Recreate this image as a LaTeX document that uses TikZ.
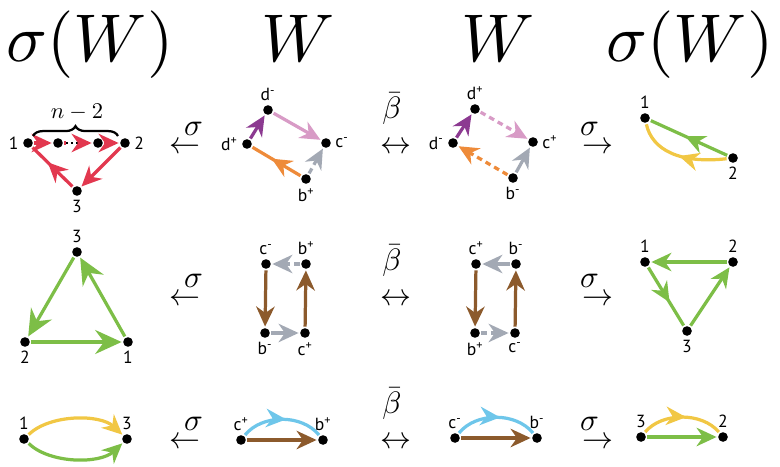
\documentclass[tikz,border=0pt]{standalone}
\usepackage{amsmath}
\usepackage{fontspec}
\newfontfamily\lblfont{PT Sans}
\usetikzlibrary{arrows.meta,decorations.markings,decorations.pathreplacing}

\definecolor{qred}{HTML}{E2384F}
\definecolor{qgreen}{HTML}{7DBE47}
\definecolor{qyellow}{HTML}{F1C744}
\definecolor{qpurple}{HTML}{8C3A91}
\definecolor{qpink}{HTML}{D89BC6}
\definecolor{qorange}{HTML}{EE8B3A}
\definecolor{qgray}{HTML}{A3A9B4}
\definecolor{qbrown}{HTML}{8C5A2C}
\definecolor{qcyan}{HTML}{6EC6EA}

\tikzset{
  dot/.style={circle,fill=black,inner sep=0pt,minimum size=2.4mm},
  tip/.style={-{Stealth[length=5mm,width=4.6mm,inset=1.6mm]}},
  bigtip/.style={-{Stealth[length=6.6mm,width=6mm,inset=2.2mm]}},
  midtip/.style={decoration={markings,mark=at position #1 with
      {\arrow{Stealth[length=5mm,width=4.6mm,inset=1.6mm]}}},postaction={decorate}},
  dashln/.style={dash pattern=on 4pt off 3pt},
  lbl/.style={font=\lblfont\fontsize{12.5}{14}\selectfont,inner sep=1pt},
  head/.style={scale=4.8,inner sep=0pt,anchor=base},
  map/.style={scale=2.2,inner sep=0pt,anchor=base},
}

\newcommand{\pl}[1]{#1\textsuperscript{+}}
\newcommand{\mi}[1]{#1\textsuperscript{-}}

\begin{document}
\begin{tikzpicture}[x=0.025cm,y=-0.025cm,line width=2.3pt,
  every label/.style={lbl},label distance=0pt]
\useasboundingbox (0,0) rectangle (780,466);

% headings
\node[head] (hd1) at (90,62) {$\sigma(W)$};
\node[head] (hd2) at (298,62) {$W$};
\node[head] (hd3) at (498,62) {$W$};
\node[head] (hd4) at (690,62) {$\sigma(W)$};

% maps between the columns
\foreach \y/\n in {153/1,305/2,448/3}{
  \node[map] (sl\n) at (185,\y) {$\overset{\textstyle\;\;\sigma}{\leftarrow}$};
  \node[map] (bb\n) at (392,\y) {$\overset{\textstyle\bar\beta}{\rule{0pt}{0.8em}\leftrightarrow}$};
  \node[map] (sr\n) at (598,\y) {$\overset{\textstyle\sigma\;\;}{\rightarrow}$};
}

% ---- row 1 ----
\node[dot,label=left:1] (a1) at (28,143) {};
\node[dot] (aa) at (58,143) {};
\node[dot] (ab) at (98,143) {};
\node[dot,label=right:2] (a2) at (125,143) {};
\node[dot,label=below:3] (a3) at (77,191) {};
\coordinate (ad1) at (66,143);
\coordinate (ad2) at (80,143);
\draw[qred,tip] (a1) -- (aa);
\draw[qred] (aa) -- (ad1);
\draw[dotted,line width=1.5pt] (ad1) -- (ad2);
\draw[qred,tip] (ad2) -- (ab);
\draw[qred,tip] (ab) -- (a2);
\draw[qred,tip] (a2) -- (a3);
\draw[qred,midtip=.62] (a3) -- (a1);
\draw[decorate,decoration={brace,amplitude=7pt},line width=1.6pt] (33,136) -- (118,136);
\node[scale=1.6] (nm) at (77,112) {$n-2$};

\node[dot,label=above:\mi{d}] (bdm) at (268,110) {};
\node[dot,label=left:\pl{d}] (bdp) at (247,144) {};
\node[dot,label=right:\mi{c}] (bcm) at (326,143) {};
\node[dot,label=below:\pl{b}] (bbp) at (306,179) {};
\draw[qpurple,tip] (bdp) -- (bdm);
\draw[qpink,tip] (bdm) -- (bcm);
\draw[qorange,midtip=.6] (bbp) -- (bdp);
\draw[qgray,dashln,tip] (bbp) -- (bcm);

\node[dot,label=above:\pl{d}] (cdp) at (475,109) {};
\node[dot,label=left:\mi{d}] (cdm) at (453,143) {};
\node[dot,label=right:\pl{c}] (ccp) at (533,142) {};
\node[dot,label=below:\mi{b}] (cbm) at (513,178) {};
\draw[qpurple,tip] (cdm) -- (cdp);
\draw[qpink,dashln,tip] (cdp) -- (ccp);
\draw[qorange,dashln,tip] (cbm) -- (cdm);
\draw[qgray,tip] (cbm) -- (ccp);

\node[dot,label=above:1] (d1) at (645,118) {};
\node[dot,label=below:2] (d2) at (733,158) {};
\draw[qgreen,midtip=.55] (d2) -- (d1);
\draw[qyellow,midtip=.5] (d2) .. controls (680,164) and (652,150) .. (d1);

% ---- row 2 ----
\node[dot,label=above:3] (e3) at (77,252) {};
\node[dot,label=below:2] (e2) at (25,342) {};
\node[dot,label=below:1] (e1) at (128,342) {};
\draw[qgreen,bigtip] (e3) -- (e2);
\draw[qgreen,bigtip] (e2) -- (e1);
\draw[qgreen,bigtip] (e1) -- (e3);

\node[dot,label=above:\mi{c}] (fcm) at (266,264) {};
\node[dot,label=above:\pl{b}] (fbp) at (306,264) {};
\node[dot,label=below:\mi{b}] (fbm) at (265,333) {};
\node[dot,label=below:\pl{c}] (fcp) at (305,333) {};
\draw[qbrown,tip] (fcm) -- (fbm);
\draw[qbrown,tip] (fcp) -- (fbp);
\draw[qgray,tip] (fbm) -- (fcp);
\draw[qgray,dashln,tip] (fbp) -- (fcm);

\node[dot,label=above:\pl{c}] (gcp) at (476,264) {};
\node[dot,label=above:\mi{b}] (gbm) at (516,264) {};
\node[dot,label=below:\pl{b}] (gbp) at (475,333) {};
\node[dot,label=below:\mi{c}] (gcm) at (515,333) {};
\draw[qbrown,tip] (gcp) -- (gbp);
\draw[qbrown,tip] (gcm) -- (gbm);
\draw[qgray,tip] (gbm) -- (gcp);
\draw[qgray,dashln,tip] (gbp) -- (gcm);

\node[dot,label=above:1] (h1) at (645,262) {};
\node[dot,label=above:2] (h2) at (733,262) {};
\node[dot,label=below:3] (h3) at (687,331) {};
\draw[qgreen,tip] (h2) -- (h1);
\draw[qgreen,midtip=.6] (h1) -- (h3);
\draw[qgreen,tip] (h3) -- (h2);

% ---- row 3 ----
\node[dot,label=above:1] (k1) at (24,439) {};
\node[dot,label=above:3] (k3) at (127,439) {};
\draw[qyellow,tip] (k1) .. controls (50,414) and (100,414) .. (k3);
\draw[qgreen,tip] (k1) .. controls (50,464) and (100,464) .. (k3);

\node[dot,label=above:\pl{c}] (mcp) at (241,440) {};
\node[dot,label=above:\pl{b}] (mbp) at (323,440) {};
\draw[qbrown,tip] (mcp) -- (mbp);
\draw[qcyan,midtip=.55] (mcp) .. controls (262,414) and (302,414) .. (mbp);

\node[dot,label=above:\mi{c}] (ncm) at (455,438) {};
\node[dot,label=above:\mi{b}] (nbm) at (537,438) {};
\draw[qbrown,tip] (ncm) -- (nbm);
\draw[qcyan,midtip=.55] (ncm) .. controls (476,412) and (516,412) .. (nbm);

\node[dot,label=above:3] (p3) at (641,437) {};
\node[dot,label=above:2] (p2) at (723,437) {};
\draw[qgreen,tip] (p3) -- (p2);
\draw[qyellow,midtip=.55] (p3) .. controls (662,412) and (702,412) .. (p2);
\end{tikzpicture}
\end{document}
